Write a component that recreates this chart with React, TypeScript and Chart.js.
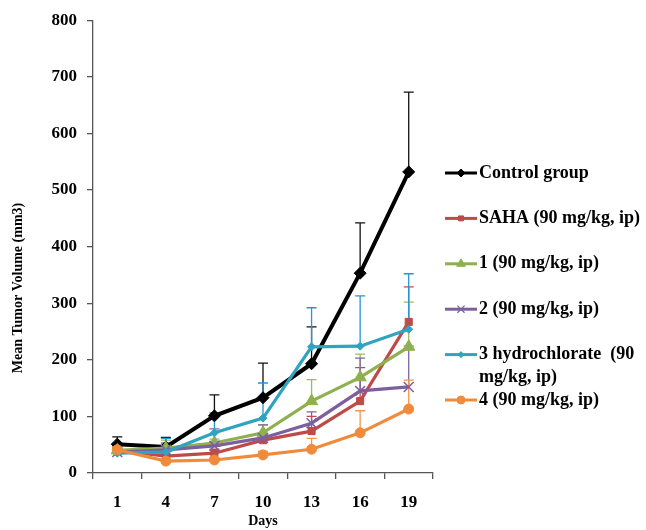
import React, { useEffect, useRef } from 'react';
import { Chart, registerables } from 'chart.js';
import { drawPoint } from 'chart.js/helpers';

Chart.register(...registerables);

const days = ['1', '4', '7', '10', '13', '16', '19'];

const seriesLabels = [
  'Control group',
  'SAHA (90 mg/kg, ip)',
  '1 (90 mg/kg, ip)',
  '2 (90 mg/kg, ip)',
  '3 hydrochlorate  (90 mg/kg, ip)',
  '4 (90 mg/kg, ip)',
];

const controlMean = [51, 46, 101, 133, 193, 353, 532];
const controlErr = [13, 17, 37, 61, 65, 89, 141];

const sahaMean = [40, 30, 35, 58, 74, 127, 267];
const sahaErr = [8, 8, 7, 10, 26, 59, 62];

const cmp1Mean = [40, 44, 53, 71, 127, 169, 223];
const cmp1Err = [7, 14, 7, 14, 38, 41, 79];

const cmp2Mean = [37, 41, 48, 62, 88, 145, 152];
const cmp2Err = [6, 12, 30, 23, 20, 58, 72];

const cmp3Mean = [35, 37, 71, 97, 223, 224, 254];
const cmp3Err = [7, 24, 35, 62, 69, 89, 98];

const cmp4Mean = [41, 21, 23, 32, 42, 71, 113];
const cmp4Err = [5, 4, 4, 6, 19, 39, 51];

const yMin = 0;
const yMax = 800;
const yStep = 100;

const FONT = "'Liberation Serif', 'Times New Roman', serif";

const errorBarPlugin = {
  id: 'errorBars',
  beforeDatasetsDraw(chart: any) {
    const ctx = chart.ctx;
    const y = chart.scales.y;
    chart.data.datasets.forEach((ds: any, i: number) => {
      const meta = chart.getDatasetMeta(i);
      ctx.save();
      ctx.strokeStyle = ds.errorColor;
      ctx.lineWidth = 1.3;
      meta.data.forEach((pt: any, j: number) => {
        const top = y.getPixelForValue(ds.data[j] + ds.errorPlus[j]);
        ctx.beginPath();
        ctx.moveTo(pt.x, pt.y);
        ctx.lineTo(pt.x, top);
        ctx.moveTo(pt.x - 5, top);
        ctx.lineTo(pt.x + 5, top);
        ctx.stroke();
      });
      ctx.restore();
    });
  },
};

const legendPlugin = {
  id: 'customLegend',
  afterDraw(chart: any) {
    const ctx = chart.ctx;
    const x0 = 445;
    const x1 = 477;
    const tx = 479;
    const startY = 173;
    const step = 45.4;
    const maxW = 170;
    ctx.save();
    ctx.font = `bold 18px ${FONT}`;
    ctx.textBaseline = 'middle';
    ctx.textAlign = 'left';
    chart.data.datasets.forEach((ds: any, i: number) => {
      const cy = startY + i * step;
      ctx.strokeStyle = ds.borderColor;
      ctx.lineWidth = 3;
      ctx.beginPath();
      ctx.moveTo(x0, cy);
      ctx.lineTo(x1, cy);
      ctx.stroke();
      ctx.fillStyle = ds.pointBackgroundColor;
      ctx.strokeStyle = ds.pointBorderColor;
      ctx.lineWidth = ds.pointStyle === 'crossRot' ? 1.3 : 1;
      drawPoint(ctx, { pointStyle: ds.pointStyle, radius: ds.legendRadius, rotation: 0, borderWidth: 1 }, (x0 + x1) / 2, cy);
      const words = String(ds.label).split(' ');
      const lines: string[] = [];
      let cur = '';
      words.forEach((w) => {
        const test = cur === '' ? w : cur + ' ' + w;
        if (ctx.measureText(test).width > maxW && cur !== '') {
          lines.push(cur);
          cur = w;
        } else {
          cur = test;
        }
      });
      if (cur) lines.push(cur);
      ctx.fillStyle = '#000';
      lines.forEach((ln, k) => {
        ctx.fillText(ln, tx, cy + k * 23);
      });
    });
    ctx.save();
    ctx.font = `bold 14px ${FONT}`;
    ctx.fillStyle = '#000';
    ctx.textAlign = 'center';
    ctx.textBaseline = 'middle';
    ctx.translate(18, 288);
    ctx.rotate(-Math.PI / 2);
    ctx.fillText('Mean Tumor Volume (mm3)', 0, 0);
    ctx.restore();
    ctx.restore();
  },
};

function makeDs(label: string, data: number[], err: number[], color: string, errColor: string, style: string, radius: number, legendRadius: number, width: number, order: number) {
  return {
    label,
    data,
    errorPlus: err,
    errorColor: errColor,
    borderColor: color,
    backgroundColor: color,
    pointBackgroundColor: color,
    pointBorderColor: color,
    pointStyle: style,
    pointRadius: radius,
    pointBorderWidth: style === 'crossRot' ? 1.5 : 1,
    legendRadius,
    borderWidth: width,
    tension: 0,
    fill: false,
    order,
  };
}

export default function App() {
  const ref = useRef<HTMLCanvasElement | null>(null);
  useEffect(() => {
    if (!ref.current) return;
    const chart = new Chart(ref.current, {
      type: 'line',
      data: {
        labels: days,
        datasets: [
          makeDs(seriesLabels[0], controlMean, controlErr, '#000000', '#111111', 'rectRot', 6, 4, 4, 5),
          makeDs(seriesLabels[1], sahaMean, sahaErr, '#BE4B48', '#BE4B48', 'rect', 5, 3.5, 3.2, 4),
          makeDs(seriesLabels[2], cmp1Mean, cmp1Err, '#8FB04F', '#9BBB59', 'triangle', 7, 5, 3.2, 3),
          makeDs(seriesLabels[3], cmp2Mean, cmp2Err, '#7D5FA0', '#8064A2', 'crossRot', 7, 5, 3.2, 2),
          makeDs(seriesLabels[4], cmp3Mean, cmp3Err, '#2FA3C0', '#2196D8', 'rectRot', 4, 3, 3.2, 1),
          makeDs(seriesLabels[5], cmp4Mean, cmp4Err, '#F08B3C', '#F79646', 'circle', 5, 4, 3.2, 0),
        ] as any,
      },
      options: {
        animation: false,
        responsive: false,
        maintainAspectRatio: false,
        layout: { padding: { left: 0, top: 20, right: 213, bottom: 0 } },
        plugins: {
          legend: { display: false },
          tooltip: { enabled: false },
          title: { display: false },
        },
        scales: {
          x: {
            type: 'category',
            offset: true,
            grid: { display: true, offset: true, drawOnChartArea: false, drawTicks: true, tickLength: 6, color: '#555', lineWidth: 1.3 },
            border: { display: true, color: '#555', width: 1.3 },
            ticks: { color: '#000', font: { family: FONT, size: 17, weight: 'bold' }, padding: 13, maxRotation: 0 },
            title: { display: true, text: 'Days', color: '#000', font: { family: FONT, size: 14, weight: 'bold' }, padding: { top: 0, bottom: 0 } },
            afterFit: (s: any) => { s.height = 57; },
          },
          y: {
            min: yMin,
            max: yMax,
            grid: { display: true, drawOnChartArea: false, drawTicks: true, tickLength: 6, color: '#555', lineWidth: 1.3 },
            border: { display: true, color: '#555', width: 1.3 },
            ticks: { stepSize: yStep, color: '#000', font: { family: FONT, size: 17, weight: 'bold' }, padding: 10 },
            afterFit: (s: any) => { s.width = 93; },
          },
        },
      } as any,
      plugins: [errorBarPlugin, legendPlugin],
    });
    return () => chart.destroy();
  }, []);
  return (
    <div style={{ position: 'fixed', left: 0, top: 0, width: 646, height: 530, background: '#fff' }}>
      <canvas ref={ref} width={646} height={530} style={{ display: 'block' }} />
    </div>
  );
}
